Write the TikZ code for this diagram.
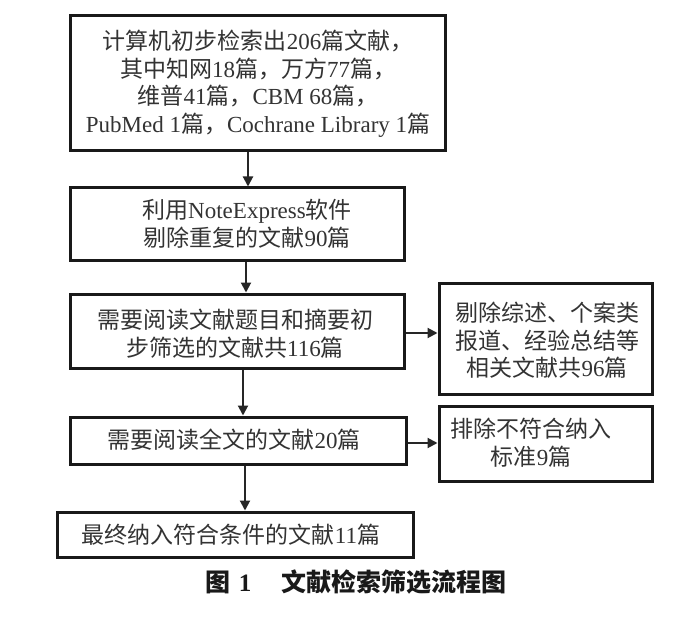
\documentclass[tikz,border=0pt]{standalone}
\usepackage{fontspec}
\setmainfont{Noto Sans CJK SC}
\newfontfamily\lt{Liberation Serif}
\usetikzlibrary{arrows.meta}
\begin{document}
\begin{tikzpicture}[x=1pt,y=-1pt,
  box/.style={draw=black!90, line width=3pt, inner sep=0pt},
  txt/.style={align=center, font=\fontsize{23}{27.5}\selectfont, text=black!80, inner sep=0pt},
  captxt/.style={font=\fontsize{25}{30}\selectfont\bfseries, text=black!90, inner sep=0pt},
  arr/.style={draw=black!85, line width=2pt, -{Triangle[length=10pt,width=10pt]}}]
\useasboundingbox (0,0) rectangle (700,617);
\fill[white] (0,0) rectangle (700,617);
% boxes
\node[box, minimum width=375pt, minimum height=135pt] (b1) at (257.5,83.5) {};
\node[box, minimum width=334pt, minimum height=72pt] (b2) at (237,224) {};
\node[box, minimum width=334pt, minimum height=74pt] (b3) at (237,331) {};
\node[box, minimum width=213pt, minimum height=111pt] (s1) at (545.5,338.5) {};
\node[box, minimum width=336pt, minimum height=47pt] (b4) at (238,440.5) {};
\node[box, minimum width=213pt, minimum height=75pt] (s2) at (545.5,443.5) {};
\node[box, minimum width=356pt, minimum height=45pt] (b5) at (235,534.5) {};
% texts
\node[txt] (t1) at (258,83.5) {计算机初步检索出{\lt 206}篇文献，\\其中知网{\lt 18}篇，万方{\lt 77}篇，\\维普{\lt 41}篇，{\lt CBM 68}篇，\\{\lt PubMed 1}篇，{\lt Cochrane Library 1}篇};
\node[txt] (t2) at (247,224) {利用{\lt NoteExpress}软件\\剔除重复的文献{\lt 90}篇};
\node[txt] (t3) at (235,333.5) {需要阅读文献题目和摘要初\\步筛选的文献共{\lt 116}篇};
\node[txt] (ts1) at (547,340.5) {剔除综述、个案类\\报道、经验总结等\\相关文献共{\lt 96}篇};
\node[txt] (t4) at (234,440) {需要阅读全文的文献{\lt 20}篇};
\node[txt] (ts2) at (531,442.5) {排除不符合纳入\\标准{\lt 9}篇};
\node[txt] (t5) at (231,535) {最终纳入符合条件的文献{\lt 11}篇};
\node[captxt] (capt) at (356,582) {图\hspace{8pt}{\lt 1}\hspace{30pt}文献检索筛选流程图};
% connectors
\coordinate (x1) at (248,0);
\coordinate (x2) at (246,0);
\coordinate (x3) at (243,0);
\coordinate (x4) at (245,0);
\coordinate (y1) at (0,333);
\coordinate (y2) at (0,443);
\draw[arr] (b1.south -| x1) -- (b2.north -| x1);
\draw[arr] (b2.south -| x2) -- (b3.north -| x2);
\draw[arr] (b3.south -| x3) -- (b4.north -| x3);
\draw[arr] (b4.south -| x4) -- (b5.north -| x4);
\draw[arr] (b3.east |- y1) -- (s1.west |- y1);
\draw[arr] (b4.east |- y2) -- (s2.west |- y2);
\end{tikzpicture}
\end{document}
